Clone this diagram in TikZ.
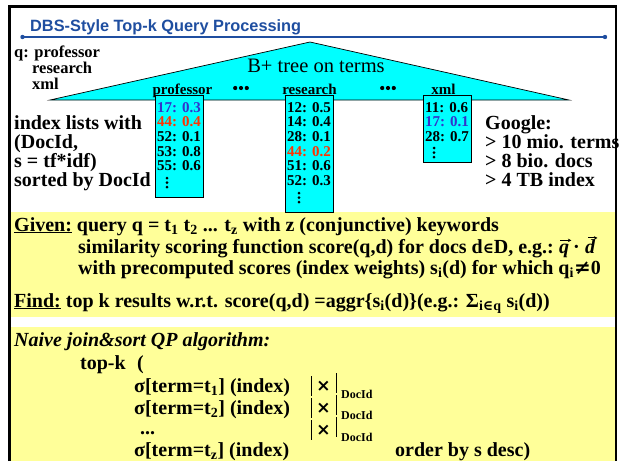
\documentclass[tikz,border=0pt]{standalone}
\usepackage{fontspec}
\setmainfont{Liberation Serif}
\newfontfamily\titlefont{Liberation Sans}
\newfontfamily\mysymfont{DejaVu Serif}
\newfontfamily\joinfont{DejaVu Sans}
\usetikzlibrary{arrows.meta}

\definecolor{hdrblue}{RGB}{31,78,160}
\definecolor{idxcyan}{RGB}{0,255,255}
\definecolor{noteyellow}{RGB}{255,255,153}
\definecolor{hitblue}{RGB}{51,51,204}
\definecolor{hitred}{RGB}{255,51,0}

\tikzset{
  big/.style={anchor=base west, inner sep=0pt, font=\bfseries\fontsize{20}{22}\selectfont},
  qtxt/.style={anchor=base west, inner sep=0pt, font=\bfseries\fontsize{16.5}{18}\selectfont},
  entry/.style={anchor=base west, inner sep=0pt, font=\bfseries\fontsize{15}{16}\selectfont},
  termlabel/.style={anchor=base, inner sep=0pt, font=\bfseries\fontsize{15}{16}\selectfont},
  idxbox/.style={draw=black, line width=0.8pt, fill=idxcyan},
  small/.style={anchor=base west, inner sep=0pt, font=\bfseries\fontsize{12}{13}\selectfont},
  joinbar/.style={line width=1pt},
  vecarrow/.style={line width=0.9pt, -{Stealth[length=3.5pt,width=3.5pt]}},
}
% small element sign for running text
\newcommand{\elemof}{{\mysymfont\fontsize{15}{16}\selectfont ∈}}

\begin{document}
\begin{tikzpicture}[x=1pt,y=-1pt]
\useasboundingbox (0,0) rectangle (619,461);

% yellow panels
\fill[noteyellow] (11,212) rectangle (615,317);
\fill[noteyellow] (11,327) rectangle (615,461);

% slide frame
\draw[line width=2.5pt] (9.5,461) -- (9.5,6.5) -- (616,6.5) -- (616,461);

% title with rule
\node[anchor=base west, inner sep=0pt, text=hdrblue] (title) at (30,31)
  {\resizebox{271pt}{!}{\titlefont\bfseries\fontsize{16}{18}\selectfont DBS-Style Top-k Query Processing}};
\coordinate (ruleL) at (22.5,37);
\coordinate (ruleR) at (605,37);
\draw[hdrblue, line width=1.3pt] (ruleL) -- (ruleR);
\fill[hdrblue] (ruleL) circle (2.2) (ruleR) circle (2.2);

% query terms
\node[qtxt] (q1) at (14,57) {q: professor};
\node[qtxt] (q2) at (32,73) {research};
\node[qtxt] (q3) at (32,89) {xml};

% B+ tree
\filldraw[fill=idxcyan, draw=black, line width=0.7pt] (50,100) -- (310,42) -- (569,100) -- cycle;
\node[anchor=base, inner sep=0pt, font=\fontsize{20.5}{22}\selectfont] (btree) at (316,72) {B+ tree on terms};

\node[termlabel] (lprof) at (182.5,94) {professor};
\node[termlabel] (lres) at (309.5,94) {research};
\node[termlabel] (lxml) at (443.5,94) {xml};
\foreach \cx in {241,388}
  \foreach \k in {-1,0,1}
    \fill (\cx+5.8*\k,88) circle (2.1);

% index lists
\draw[idxbox] (155,95) rectangle (203,197);
\draw[idxbox] (285,95) rectangle (333,212);
\draw[idxbox] (423,95) rectangle (471,162);

\foreach \t/\c [count=\i] in {17: 0.3/hitblue, 44: 0.4/hitred, 52: 0.1/black, 53: 0.8/black, 55: 0.6/black}
  \node[entry, text=\c] (p\i) at (157,97.3+14.7*\i) {\t};
\foreach \t/\c [count=\i] in {12: 0.5/black, 14: 0.4/black, 28: 0.1/black, 44: 0.2/hitred, 51: 0.6/black, 52: 0.3/black}
  \node[entry, text=\c] (r\i) at (287,97.3+14.7*\i) {\t};
\foreach \t/\c [count=\i] in {11: 0.6/black, 17: 0.1/hitblue, 28: 0.7/black}
  \node[entry, text=\c] (x\i) at (425,97.3+14.7*\i) {\t};
\foreach \k in {0,1,2} {
  \fill (167,178+4.6*\k) circle (1.5);
  \fill (299,193+4.6*\k) circle (1.5);
  \fill (434,148+4.6*\k) circle (1.5);
}

% side notes
\node[big] (n1) at (14,129) {index lists with};
\node[big] (n2) at (14,148) {(DocId,};
\node[big] (n3) at (14,167) {s = tf*idf)};
\node[big] (n4) at (14,186) {sorted by DocId};

\node[big] (g1) at (485,129) {Google:};
\node[big] (g2) at (485,148) {> 10 mio. terms};
\node[big] (g3) at (485,167) {> 8 bio. docs};
\node[big] (g4) at (485,186) {> 4 TB index};

% problem statement
\node[big] (given) at (14,231) {\underline{Given:} query q = t\textsubscript{1} t\textsubscript{2} ... t\textsubscript{z} with z (conjunctive) keywords};
\node[big] (sim) at (78,253) {similarity scoring function score(q,d) for docs d\elemof D, e.g.:};
\node[big, font=\bfseries\itshape\fontsize{20}{22}\selectfont] (vq) at (559,253) {q};
\node[big] (vdot) at (573,253) {·};
\node[big, font=\bfseries\itshape\fontsize{20}{22}\selectfont] (vd) at (585,253) {d};
\draw[vecarrow] ([xshift=1pt,yshift=3pt]vq.north west) -- ([xshift=2pt,yshift=3pt]vq.north east);
\draw[vecarrow] ([xshift=3pt,yshift=1pt]vd.north west) -- ([xshift=2pt,yshift=1pt]vd.north east);
\node[big] (prec) at (78,274) {with precomputed scores (index weights) s\textsubscript{i}(d) for which q\textsubscript{i}{\mysymfont ≠}0};
\node[big] (find) at (14,307) {\underline{Find:} top k results w.r.t. score(q,d) =aggr\{s\textsubscript{i}(d)\}(e.g.: Σ\textsubscript{i{\mysymfont ∈}q} s\textsubscript{i}(d))};

% naive algorithm
\node[big, font=\bfseries\itshape\fontsize{20}{22}\selectfont] (naive) at (14,346) {Naive join\&sort QP algorithm:};
\node[big] (topk) at (80,369) {top-k};
\node[big] (paren) at (137,369) {(};
\node[big] (s1) at (134,392) {σ[term=t\textsubscript{1}] (index)};
\node[big] (s2) at (134,414) {σ[term=t\textsubscript{2}] (index)};
\node[big] (sd) at (140,434) {...};
\node[big] (sz) at (134,456) {σ[term=t\textsubscript{z}] (index)};
\node[big] (order) at (395,456) {order by s desc)};

% join operators on DocId
\foreach \yc/\yd [count=\i] in {386/398, 408/419, 430/441} {
  \draw[joinbar] (311,\yc-10) -- (311,\yc+10);
  \draw[joinbar] (336,\yc-13) -- (336,\yc+7);
  \node[inner sep=0pt, font=\joinfont\bfseries\fontsize{17}{18}\selectfont] (j\i) at (323.5,\yc) {×};
  \node[small] (d\i) at (341,\yd) {DocId};
}
\end{tikzpicture}
\end{document}
